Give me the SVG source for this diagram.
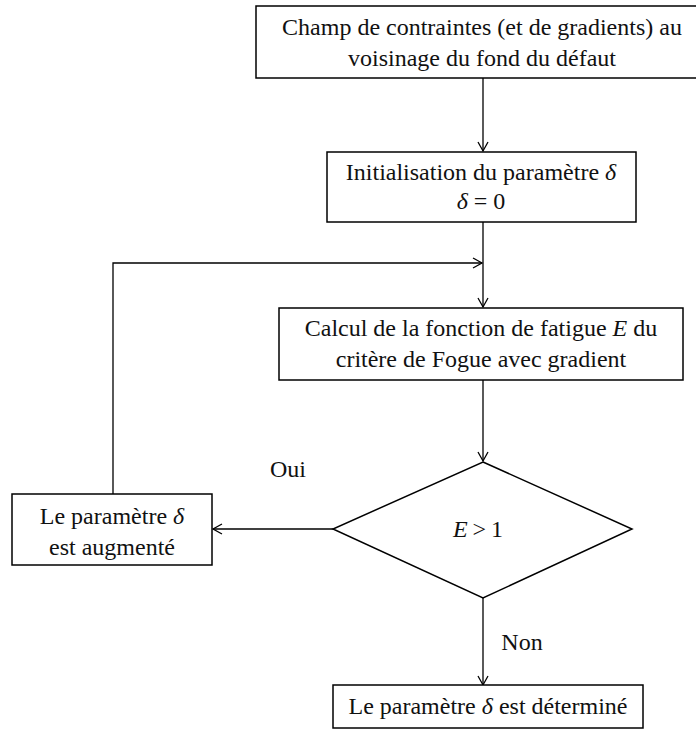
<svg xmlns="http://www.w3.org/2000/svg" width="696" height="729" viewBox="0 0 696 729">
<style>
.box{fill:#fff;stroke:#000;stroke-width:1.5}
.ln{fill:none;stroke:#000;stroke-width:1.3}
text{font-family:"Liberation Serif","Times New Roman",serif;font-size:24px;fill:#111;text-anchor:middle}
.m{font-style:italic}
</style>
<defs>
<marker id="ah" markerWidth="12" markerHeight="12" refX="10" refY="6" orient="auto" markerUnits="userSpaceOnUse">
<path d="M1,1 L10,6 L1,11" fill="none" stroke="#000" stroke-width="1.3"/>
</marker>
</defs>
<rect width="696" height="729" fill="#fff"/>
<g id="connectors">
<line class="ln" x1="483" y1="78" x2="483" y2="151" marker-end="url(#ah)"/>
<line class="ln" x1="483" y1="222" x2="483" y2="307" marker-end="url(#ah)"/>
<polyline class="ln" points="113,494 113,263 482,263" marker-end="url(#ah)"/>
<line class="ln" x1="483" y1="380" x2="483" y2="461" marker-end="url(#ah)"/>
<line class="ln" x1="333" y1="529" x2="213" y2="529" marker-end="url(#ah)"/>
<line class="ln" x1="483" y1="598" x2="483" y2="685" marker-end="url(#ah)"/>
<text x="288" y="477">Oui</text>
<text x="522" y="650">Non</text>
</g>
<g id="n1">
<rect class="box" x="256" y="6" width="455" height="72"/>
<text x="482" y="35">Champ de contraintes (et de gradients) au</text>
<text x="482" y="66">voisinage du fond du défaut</text>
</g>
<g id="n2">
<rect class="box" x="327" y="152" width="309" height="70"/>
<text x="481" y="180">Initialisation du paramètre <tspan class="m">δ</tspan></text>
<text x="481" y="209"><tspan class="m">δ</tspan> = 0</text>
</g>
<g id="n3">
<rect class="box" x="279" y="308" width="404" height="72"/>
<text x="481" y="336">Calcul de la fonction de fatigue <tspan class="m">E</tspan> du</text>
<text x="481" y="367">critère de Fogue avec gradient</text>
</g>
<g id="n4">
<polygon class="box" points="483,462 632,529 483,598 333,529"/>
<text x="478" y="537"><tspan class="m">E</tspan><tspan dx="5">&gt;</tspan><tspan dx="5">1</tspan></text>
</g>
<g id="n5">
<rect class="box" x="12" y="494" width="200" height="71"/>
<text x="112" y="524">Le paramètre <tspan class="m">δ</tspan></text>
<text x="112" y="555">est augmenté</text>
</g>
<g id="n6">
<rect class="box" x="333" y="685" width="310" height="43"/>
<text x="488" y="714">Le paramètre <tspan class="m">δ</tspan> est déterminé</text>
</g>
</svg>
